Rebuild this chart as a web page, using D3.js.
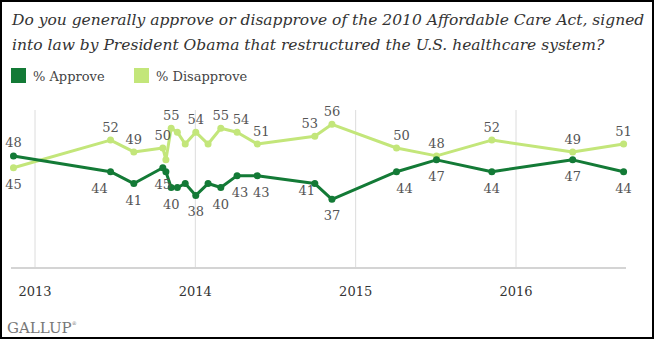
<!DOCTYPE html>
<html>
<head>
<meta charset="utf-8">
<title>ACA approval</title>
<script src="https://d3js.org/d3.v7.min.js"></script>
<style>
    body { margin: 0; background: #fff; }
    svg { display: block; }
    svg text { font-family: "DejaVu Serif", "Liberation Serif", serif; }
    .title { font-style: italic; font-size: 15.5px; fill: #333; }
    .legend text { font-size: 13px; fill: #444; }
    .lbl { font-size: 13px; fill: #555; text-anchor: middle; }
    .year { font-size: 13px; fill: #333; text-anchor: middle; }
    .brand { font-size: 15px; fill: #777; }
</style>
</head>
<body>
<script>
    // poll dates and results
    var dates = ["2012-11-13", "2013-06-22", "2013-08-14", "2013-10-19", "2013-10-26",
                 "2013-11-07", "2013-11-21", "2013-12-09", "2014-01-02", "2014-01-30",
                 "2014-02-28", "2014-04-06", "2014-05-22", "2014-09-30", "2014-11-08",
                 "2015-04-04", "2015-07-04", "2015-11-07", "2016-05-09", "2016-09-02"];
    var approve    = [48, 44, 41, 45, 44, 40, 40, 41, 38, 41, 40, 43, 43, 41, 37, 44, 47, 44, 47, 44];
    var disapprove = [45, 52, 49, 50, 47, 55, 54, 51, 54, 51, 55, 54, 51, 53, 56, 50, 48, 52, 49, 51];

    // which points carry a value label
    var approveLabeled    = [0, 1, 2, 3, 5, 8, 10, 11, 12, 13, 14, 15, 16, 17, 18, 19];
    var disapproveLabeled = [0, 1, 2, 3, 5, 8, 10, 11, 12, 13, 14, 15, 16, 17, 18, 19];

    var years = [2013, 2014, 2015, 2016];
    var seriesNames = ["% Approve", "% Disapprove"];

    var W = 654, H = 339;
    var dark = "#137a36", light = "#c3e67a";
    var parse = d3.timeParse("%Y-%m-%d");

    var svg = d3.select("body").append("svg")
        .attr("width", W)
        .attr("height", H);

    // scales
    var x = d3.scaleTime()
        .domain([new Date(2013, 0, 1), new Date(2016, 0, 1)])
        .range([35, 516]);
    var y = d3.scaleLinear()
        .domain([20, 60])
        .range([266.5, 108.5]);

    var plotTop = 110, axisY = 268;

    // title
    svg.append("text").attr("class", "title").attr("x", 12).attr("y", 25)
        .text("Do you generally approve or disapprove of the 2010 Affordable Care Act, signed");
    svg.append("text").attr("class", "title").attr("x", 12).attr("y", 50)
        .text("into law by President Obama that restructured the U.S. healthcare system?");

    // legend
    var legend = svg.selectAll(".legend")
        .data(seriesNames)
        .enter().append("g")
        .attr("class", "legend")
        .attr("transform", function(d, i) { return "translate(" + (11 + i * 123) + ",68)"; });
    legend.append("rect")
        .attr("width", 15).attr("height", 15)
        .attr("fill", function(d, i) { return i ? light : dark; });
    legend.append("text")
        .attr("x", 22).attr("y", 13)
        .text(function(d) { return d; });

    // year gridlines
    svg.selectAll(".grid")
        .data(years)
        .enter().append("line")
        .attr("x1", function(d) { return x(new Date(d, 0, 1)); })
        .attr("x2", function(d) { return x(new Date(d, 0, 1)); })
        .attr("y1", plotTop).attr("y2", axisY)
        .attr("stroke", "#dcdcdc").attr("stroke-width", 1);

    svg.append("line")
        .attr("x1", 11).attr("x2", 626)
        .attr("y1", axisY).attr("y2", axisY)
        .attr("stroke", "#d4d4d4").attr("stroke-width", 2);

    svg.selectAll(".year")
        .data(years)
        .enter().append("text")
        .attr("class", "year")
        .attr("x", function(d) { return x(new Date(d, 0, 1)); })
        .attr("y", 296)
        .text(function(d) { return d; });

    // lines
    var pts = dates.map(function(d, i) {
        return { date: parse(d), a: approve[i], b: disapprove[i] };
    });

    function drawSeries(key, color) {
        var line = d3.line()
            .x(function(d) { return x(d.date); })
            .y(function(d) { return y(d[key]); });
        svg.append("path")
            .datum(pts)
            .attr("d", line)
            .attr("fill", "none")
            .attr("stroke", color)
            .attr("stroke-width", 3)
            .attr("stroke-linejoin", "round");
        svg.selectAll(".dot-" + key)
            .data(pts)
            .enter().append("circle")
            .attr("cx", function(d) { return x(d.date); })
            .attr("cy", function(d) { return y(d[key]); })
            .attr("r", 3.5)
            .attr("fill", color);
    }
    drawSeries("b", light);
    drawSeries("a", dark);

    // value labels: approve below, disapprove above (first poll flipped)
    var nudgeA = { 1: -11, 11: 3, 12: 4, 13: -8, 15: 8 };
    var nudgeB = { 11: 4, 12: 4, 13: -5, 15: 5 };

    svg.selectAll(".lblA")
        .data(approveLabeled)
        .enter().append("text")
        .attr("class", "lbl")
        .attr("x", function(i) { return x(pts[i].date) + (nudgeA[i] || 0); })
        .attr("y", function(i) {
            if (i === 0) return y(pts[i].a) - 9;
            if (i === 13) return y(pts[i].a) + 11;
            return y(pts[i].a) + 21;
        })
        .text(function(i) { return approve[i]; });

    svg.selectAll(".lblB")
        .data(disapproveLabeled)
        .enter().append("text")
        .attr("class", "lbl")
        .attr("x", function(i) { return x(pts[i].date) + (nudgeB[i] || 0); })
        .attr("y", function(i) {
            if (i === 0) return y(pts[i].b) + 21;
            return y(pts[i].b) - 8;
        })
        .text(function(i) { return disapprove[i]; });

    // brand
    var brand = svg.append("text").attr("class", "brand").attr("x", 7).attr("y", 333);
    brand.append("tspan").text("GALLUP");
    brand.append("tspan").attr("font-size", 5).attr("dy", -8).text("®");

    // frame
    svg.append("rect")
        .attr("x", 1).attr("y", 1)
        .attr("width", W - 2).attr("height", H - 2)
        .attr("fill", "none")
        .attr("stroke", "#000").attr("stroke-width", 2);
</script>
</body>
</html>
